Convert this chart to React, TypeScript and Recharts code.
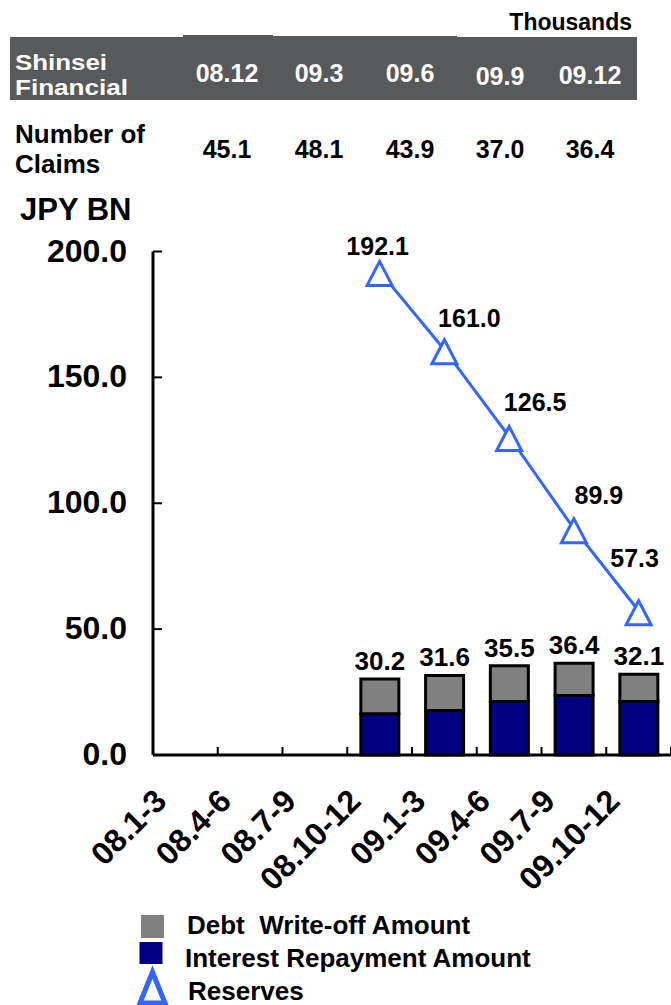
import React from 'react';
import { ComposedChart, Bar, Line, XAxis, YAxis, LabelList } from 'recharts';

// quarter categories on the x axis
const categories = ['08.1-3', '08.4-6', '08.7-9', '08.10-12', '09.1-3', '09.4-6', '09.7-9', '09.10-12'];
// JPY BN
const interestRepayment = [null, null, null, 16.4, 17.7, 21.3, 23.6, 21.3];
const debtWriteOff = [null, null, null, 13.8, 13.9, 14.2, 12.8, 10.8];
const barTotals = [null, null, null, 30.2, 31.6, 35.5, 36.4, 32.1];
const reserves = [null, null, null, 192.1, 161.0, 126.5, 89.9, 57.3];
const yTicks = [0, 50, 100, 150, 200];

// table above the chart (thousands)
const tableQuarters = ['08.12', '09.3', '09.6', '09.9', '09.12'];
const claims = [45.1, 48.1, 43.9, 37.0, 36.4];

const data = categories.map((name, i) => ({
  name,
  interest: interestRepayment[i],
  writeOff: debtWriteOff[i],
  total: barTotals[i],
  reserves: reserves[i],
}));

const FONT = '"Liberation Sans", Arial, sans-serif';
const AXIS_X = 153;
const AXIS_Y = 755;
const BAND = (671 - AXIS_X) / categories.length;
const BLUE = '#3366ff';

// where each reserves label sits relative to its point
const reserveLabelOffset: Record<number, [number, number]> = {
  3: [-2, -16],
  4: [25, -23],
  5: [26, -26],
  6: [25, -25],
  7: [-4, -44],
};

const tableCols = [227, 319, 410, 500, 590];
const headerBaseline = [82, 82, 82, 85, 84];

const YTick = (props: any) => {
  const { y, payload } = props;
  return (
    <g>
      <line x1={AXIS_X} x2={AXIS_X + 9} y1={y} y2={y} stroke="#000" strokeWidth={2} />
      <text x={127} y={y + 10} textAnchor="end" fontFamily={FONT} fontWeight="bold" fontSize={32} fill="#000">
        {Number(payload.value).toFixed(1)}
      </text>
    </g>
  );
};

const XTick = (props: any) => {
  const { x, payload } = props;
  const ax = x - 17;
  const ay = AXIS_Y + 48;
  return (
    <g>
      <line x1={x + BAND / 2} x2={x + BAND / 2} y1={AXIS_Y} y2={AXIS_Y - 8} stroke="#000" strokeWidth={2} />
      <text
        x={ax}
        y={ay}
        transform={`rotate(-45, ${ax}, ${ay})`}
        textAnchor="end"
        fontFamily={FONT}
        fontWeight="bold"
        fontSize={32}
        fill="#000"
      >
        {payload.value}
      </text>
    </g>
  );
};

const TriangleDot = (props: any) => {
  const { cx, cy, index } = props;
  if (cx == null || cy == null || reserves[index] == null) return <g key={`d-${index}`} />;
  return (
    <polygon
      key={`d-${index}`}
      points={`${cx},${cy - 10} ${cx - 12.5},${cy + 14} ${cx + 12.5},${cy + 14}`}
      fill="#fff"
      stroke={BLUE}
      strokeWidth={3}
    />
  );
};

const ReserveLabel = (props: any) => {
  const { x, y, index, value } = props;
  if (value == null || x == null || y == null) return null;
  const [dx, dy] = reserveLabelOffset[index] || [0, -16];
  return (
    <text x={x + dx} y={y + dy} textAnchor="middle" fontFamily={FONT} fontWeight="bold" fontSize={25} fill="#000">
      {Number(value).toFixed(1)}
    </text>
  );
};

const TotalLabel = (props: any) => {
  const { x, y, width, value } = props;
  if (value == null) return null;
  return (
    <text x={x + width / 2} y={y - 9} textAnchor="middle" fontFamily={FONT} fontWeight="bold" fontSize={26} fill="#000">
      {Number(value).toFixed(1)}
    </text>
  );
};

const txt = { fontFamily: FONT, fontWeight: 'bold' as const };

export default function App() {
  return (
    <div style={{ position: 'absolute', left: 0, top: 0, width: 671, height: 1005, background: '#fff' }}>
      <ComposedChart
        width={671}
        height={1005}
        data={data}
        margin={{ top: 251.5, right: 0, left: 0, bottom: 0 }}
        barCategoryGap="21%"
      >
        <XAxis
          dataKey="name"
          interval={0}
          height={250}
          tickLine={false}
          axisLine={{ stroke: '#000', strokeWidth: 3 }}
          tick={<XTick />}
        />
        <YAxis
          width={153}
          domain={[0, 200]}
          ticks={yTicks}
          interval={0}
          tickLine={false}
          axisLine={{ stroke: '#000', strokeWidth: 3 }}
          tick={<YTick />}
        />
        <Bar dataKey="interest" stackId="a" fill="#000080" stroke="#000" strokeWidth={3} isAnimationActive={false} />
        <Bar dataKey="writeOff" stackId="a" fill="#808080" stroke="#000" strokeWidth={3} isAnimationActive={false}>
          <LabelList dataKey="total" content={<TotalLabel />} />
        </Bar>
        <Line
          dataKey="reserves"
          stroke={BLUE}
          strokeWidth={3}
          dot={<TriangleDot />}
          activeDot={false}
          isAnimationActive={false}
        >
          <LabelList dataKey="reserves" content={<ReserveLabel />} />
        </Line>
      </ComposedChart>

      <svg width={671} height={1005} style={{ position: 'absolute', left: 0, top: 0, pointerEvents: 'none' }}>
        <text x={632} y={30} textAnchor="end" fontSize={23} fill="#000" {...txt}>Thousands</text>
        <rect x={10} y={37} width={627} height={63} fill="#58595b" />
        <rect x={183} y={35} width={90} height={2} fill="#58595b" />
        <rect x={273} y={36} width={184} height={1} fill="#58595b" />
        <text x={15} y={70} fontSize={22} textLength={92} lengthAdjust="spacingAndGlyphs" fill="#fff" {...txt}>Shinsei</text>
        <text x={15} y={95} fontSize={22} textLength={113} lengthAdjust="spacingAndGlyphs" fill="#fff" {...txt}>Financial</text>
        {tableQuarters.map((q, i) => (
          <text key={q} x={tableCols[i]} y={headerBaseline[i]} textAnchor="middle" fontSize={25} fill="#fff" {...txt}>
            {q}
          </text>
        ))}
        <text x={15} y={143} fontSize={26} fill="#000" {...txt}>Number of</text>
        <text x={15} y={173} fontSize={26} fill="#000" {...txt}>Claims</text>
        {claims.map((c, i) => (
          <text key={i} x={tableCols[i]} y={158} textAnchor="middle" fontSize={25} fill="#000" {...txt}>
            {c.toFixed(1)}
          </text>
        ))}
        <text x={20} y={220} fontSize={31} fill="#000" {...txt}>JPY BN</text>

        <rect x={141} y={915} width={23} height={23} fill="#808080" />
        <text x={187} y={934} fontSize={26} fill="#000" style={{ whiteSpace: 'pre' }} {...txt}>Debt  Write-off Amount</text>
        <rect x={139.5} y={942} width={23} height={22} fill="#000080" />
        <text x={185} y={967} fontSize={26} fill="#000" {...txt}>Interest Repayment Amount</text>
        <polygon points="152.5,972 140,1003 165,1003" fill="#fff" stroke={BLUE} strokeWidth={5} />
        <text x={188} y={1000} fontSize={26} fill="#000" {...txt}>Reserves</text>
      </svg>
    </div>
  );
}
